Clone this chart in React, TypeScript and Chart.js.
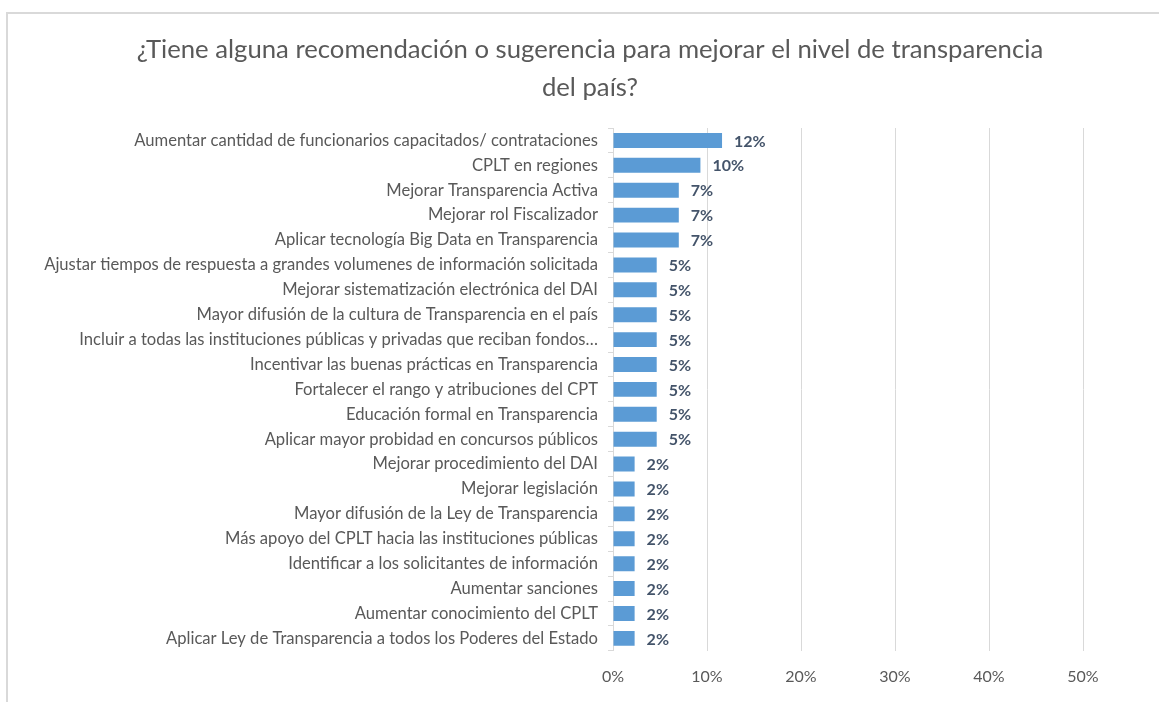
import React, { useEffect, useRef } from "react";
import { Chart, registerables } from "chart.js";

Chart.register(...registerables);

const titleLines = [
  "¿Tiene alguna recomendación o sugerencia para mejorar el nivel de transparencia",
  "del país?",
];

const categories = [
  "Aumentar cantidad de funcionarios capacitados/ contrataciones",
  "CPLT en regiones",
  "Mejorar Transparencia Activa",
  "Mejorar rol Fiscalizador",
  "Aplicar tecnología Big Data en Transparencia",
  "Ajustar tiempos de respuesta a grandes volumenes de información solicitada",
  "Mejorar sistematización electrónica del DAI",
  "Mayor difusión de la cultura de Transparencia en el país",
  "Incluir a todas las instituciones públicas y privadas que reciban fondos…",
  "Incentivar las buenas prácticas en Transparencia",
  "Fortalecer el rango y atribuciones del CPT",
  "Educación formal en Transparencia",
  "Aplicar mayor probidad en concursos públicos",
  "Mejorar procedimiento del DAI",
  "Mejorar legislación",
  "Mayor difusión de la Ley de Transparencia",
  "Más apoyo del CPLT hacia las instituciones públicas",
  "Identificar a los solicitantes de información",
  "Aumentar sanciones",
  "Aumentar conocimiento del CPLT",
  "Aplicar Ley de Transparencia a todos los Poderes del Estado",
];

const values = [
  11.6, 9.3, 7.0, 7.0, 7.0, 4.65, 4.65, 4.65, 4.65, 4.65, 4.65, 4.65, 4.65,
  2.3, 2.3, 2.3, 2.3, 2.3, 2.3, 2.3, 2.3,
];

const valueLabels = [
  "12%", "10%", "7%", "7%", "7%", "5%", "5%", "5%", "5%", "5%", "5%", "5%", "5%",
  "2%", "2%", "2%", "2%", "2%", "2%", "2%", "2%",
];

const xTicks = [0, 10, 20, 30, 40, 50];

const FONT = "Lato, 'Open Sans', sans-serif";

const framePlugin = {
  id: "frame",
  beforeDraw(chart: any) {
    const ctx = chart.ctx;
    ctx.save();
    ctx.strokeStyle = "#d9d9d9";
    ctx.lineWidth = 2;
    ctx.beginPath();
    ctx.moveTo(7, 702);
    ctx.lineTo(7, 13);
    ctx.lineTo(1159, 13);
    ctx.stroke();
    ctx.fillStyle = "#595959";
    ctx.font = `25.7px ${FONT}`;
    ctx.textAlign = "center";
    ctx.textBaseline = "middle";
    ctx.fillText(titleLines[0], 590, 50);
    ctx.fillText(titleLines[1], 590, 88);
    ctx.restore();
  },
};

const valueLabelPlugin = {
  id: "valueLabels",
  afterDatasetsDraw(chart: any) {
    const ctx = chart.ctx;
    const meta = chart.getDatasetMeta(0);
    ctx.save();
    ctx.fillStyle = "#44546A";
    ctx.font = `bold 16px ${FONT}`;
    ctx.textAlign = "left";
    ctx.textBaseline = "middle";
    meta.data.forEach((bar: any, i: number) => {
      ctx.fillText(valueLabels[i], bar.x + 12, bar.y + 1);
    });
    ctx.restore();
  },
};

export default function App() {
  const ref = useRef<HTMLCanvasElement>(null);

  useEffect(() => {
    document.body.style.margin = "0";
    document.body.style.overflow = "hidden";
    const chart = new Chart(ref.current!, {
      type: "bar",
      data: {
        labels: categories,
        datasets: [
          {
            data: values,
            backgroundColor: "#5B9BD5",
            borderWidth: 0,
            barPercentage: 0.6,
            categoryPercentage: 1,
          },
        ],
      },
      options: {
        indexAxis: "y",
        animation: false,
        responsive: false,
        maintainAspectRatio: false,
        layout: { padding: { left: 0, right: 76, top: 128, bottom: 0 } },
        plugins: {
          legend: { display: false },
          title: { display: false },
          tooltip: { enabled: false },
        },
        scales: {
          x: {
            min: 0,
            max: 50,
            afterBuildTicks(scale: any) {
              scale.ticks = xTicks.map((v) => ({ value: v }));
            },
            ticks: {
              color: "#595959",
              font: { family: FONT, size: 16 },
              padding: 16,
              callback: (v: any) => `${v}%`,
            },
            grid: { color: "#d9d9d9", drawTicks: false, lineWidth: 1 },
            border: { display: false },
          },
          y: {
            afterFit(scale: any) {
              scale.width = 613;
            },
            ticks: {
              color: "#595959",
              font: { family: FONT, size: 16.6 },
              padding: 10,
              autoSkip: false,
            },
            grid: {
              display: true,
              drawOnChartArea: false,
              drawTicks: true,
              tickLength: 5,
              offset: true,
              color: "#d9d9d9",
            },
            border: { display: true, color: "#d9d9d9" },
          },
        },
      },
      plugins: [framePlugin, valueLabelPlugin],
    });
    return () => chart.destroy();
  }, []);

  return (
    <div style={{ position: "fixed", left: 0, top: 0, width: 1159, height: 702 }}>
      <canvas ref={ref} width={1159} height={702} style={{ width: 1159, height: 702 }} />
    </div>
  );
}
